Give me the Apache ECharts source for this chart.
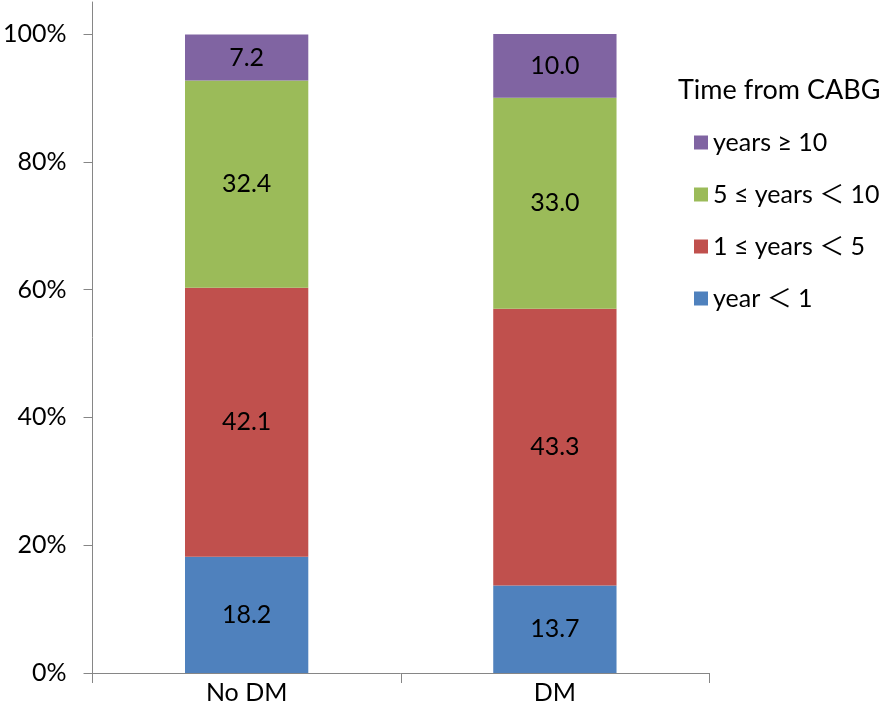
<!DOCTYPE html>
<html>
<head>
<meta charset="utf-8">
<script src="https://cdn.jsdelivr.net/npm/echarts@6/dist/echarts.min.js"></script>
<style>html,body{margin:0;padding:0;background:#fff}#c{width:894px;height:723px}</style>
</head>
<body>
<div id="c"></div>
<script>
var categories = ['No DM', 'DM'];
var seriesNames = ['year \uFF1C 1', '1 \u2264 years \uFF1C 5', '5 \u2264 years \uFF1C 10', 'years \u2265 10'];
var yearLt1 = [18.2, 13.7];
var years1to5 = [42.1, 43.3];
var years5to10 = [32.4, 33.0];
var years10plus = [7.2, 10.0];
var yTicks = [0, 20, 40, 60, 80, 100];
var legendTitle = 'Time from CABG';

var colors = ['#4F81BD', '#C0504D', '#9BBB59', '#8064A2'];
var values = [yearLt1, years1to5, years5to10, years10plus];
var FONT = "Lato, 'Noto Sans CJK JP', sans-serif";

var chart = echarts.init(document.getElementById('c'));
var series = values.map(function (v, i) {
  return {
    name: seriesNames[i],
    type: 'bar',
    stack: 'total',
    barWidth: '40%',
    data: v,
    itemStyle: { color: colors[i] },
    label: {
      show: true,
      position: 'inside',
      color: '#000',
      fontFamily: FONT,
      fontSize: 25,
      formatter: function (p) { return p.value.toFixed(1); }
    },
    emphasis: { disabled: true }
  };
});

chart.setOption({
  animation: false,
  title: {
    text: legendTitle,
    left: 673,
    top: 72,
    textStyle: { fontFamily: FONT, fontSize: 27, fontWeight: 'normal', color: '#000' }
  },
  legend: {
    orient: 'vertical',
    left: 689,
    top: 125,
    itemWidth: 14,
    itemHeight: 14,
    itemGap: 27,
    icon: 'rect',
    data: seriesNames.slice().reverse(),
    textStyle: { fontFamily: FONT, fontSize: 25, color: '#000', padding: [0, 0, 0, 0] }
  },
  grid: { left: 92, right: 185, top: 2, bottom: 50, containLabel: false },
  xAxis: {
    type: 'category',
    data: categories,
    axisLine: { lineStyle: { color: '#868686', width: 1 } },
    axisTick: { show: true, length: 10, lineStyle: { color: '#868686' } },
    axisLabel: { color: '#000', fontFamily: FONT, fontSize: 25, margin: 7 }
  },
  yAxis: {
    type: 'value',
    min: 0,
    max: 105,
    interval: 20,
    splitLine: { show: false },
    axisLine: { show: true, lineStyle: { color: '#868686', width: 1 } },
    axisTick: { show: true, length: 9, customValues: yTicks, lineStyle: { color: '#868686' } },
    axisLabel: {
      customValues: yTicks,
      color: '#000',
      fontFamily: FONT,
      fontSize: 25,
      margin: 26,
      formatter: function (v) { return v + '%'; }
    }
  },
  series: series
});
</script>
</body>
</html>
